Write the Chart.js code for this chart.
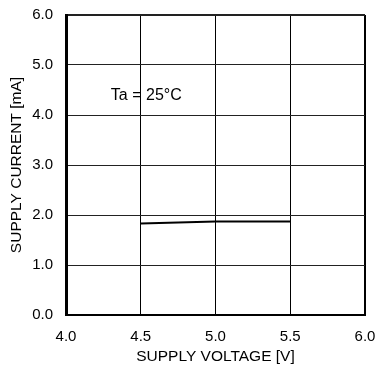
<!DOCTYPE html>
<html>
<head>
<meta charset="utf-8">
<script src="https://cdn.jsdelivr.net/npm/chart.js@4"></script>
<style>
  html, body { margin: 0; padding: 0; background: #fff; }
  #wrap { width: 376px; height: 370px; }
</style>
</head>
<body>
<div id="wrap"><canvas id="grafico"></canvas></div>
<script>
const tensao = [4.5, 5.0, 5.5];
const corrente = [1.83, 1.87, 1.87];
const ticksX = [4.0, 4.5, 5.0, 5.5, 6.0];
const ticksY = [0.0, 1.0, 2.0, 3.0, 4.0, 5.0, 6.0];
const anotacao = { texto: "Ta = 25°C", x: 4.3, y: 4.38 };

const fonte = "Liberation Sans, Arial, sans-serif";

// texto da condicao de medida, posicionado pelas escalas
const textoTa = {
  id: "textoTa",
  afterDatasetsDraw(chart) {
    const ctx = chart.ctx;
    const px = chart.scales.x.getPixelForValue(anotacao.x);
    const py = chart.scales.y.getPixelForValue(anotacao.y);
    ctx.save();
    ctx.font = "16px " + fonte;
    ctx.fillStyle = "#000";
    ctx.textAlign = "left";
    ctx.textBaseline = "middle";
    ctx.fillText(anotacao.texto, px, py);
    ctx.restore();
  }
};

new Chart(document.getElementById("grafico"), {
  type: "scatter",
  data: {
    datasets: [
      {
        data: tensao.map((v, i) => ({ x: v, y: corrente[i] })),
        showLine: true,
        borderColor: "#000",
        borderWidth: 2,
        pointRadius: 0,
        tension: 0,
      },
    ],
  },
  plugins: [textoTa],
  options: {
    responsive: true,
    maintainAspectRatio: false,
    animation: false,
    layout: { padding: { left: 0, right: 11, top: 15, bottom: 4 } },
    plugins: {
      legend: { display: false },
      tooltip: { enabled: false },
    },
    scales: {
      x: {
        type: "linear",
        min: 4,
        max: 6,
        afterBuildTicks: (s) => { s.ticks = ticksX.map((v) => ({ value: v })); },
        afterFit: (s) => {
          s.height = 51;
          s.paddingLeft = 0;
          s.paddingRight = 0;
        },
        ticks: {
          color: "#000",
          padding: 13,
          font: { family: fonte, size: 15 },
          callback: (v) => Number(v).toFixed(1),
        },
        grid: {
          color: "#000",
          lineWidth: (c) => (c.tick && c.tick.value === 6 ? 2 : 1),
          drawTicks: false,
        },
        border: { color: "#000", width: 2 },
        title: {
          display: true,
          text: "SUPPLY VOLTAGE [V]",
          color: "#000",
          font: { family: fonte, size: 15.5 },
          padding: { top: 2, bottom: 0 },
        },
      },
      y: {
        type: "linear",
        min: 0,
        max: 6,
        afterBuildTicks: (s) => { s.ticks = ticksY.map((v) => ({ value: v })); },
        afterFit: (s) => {
          s.width = 66;
          s.paddingTop = 0;
          s.paddingBottom = 0;
        },
        ticks: {
          color: "#000",
          padding: 13,
          font: { family: fonte, size: 15 },
          callback: (v) => Number(v).toFixed(1),
        },
        grid: {
          color: "#222",
          lineWidth: (c) => (c.tick && c.tick.value === 6 ? 2 : 1),
          drawTicks: false,
        },
        border: { color: "#000", width: 3 },
        title: {
          display: true,
          text: "SUPPLY CURRENT [mA]",
          color: "#000",
          font: { family: fonte, size: 15.5 },
          padding: { top: 7, bottom: 0 },
        },
      },
    },
  },
});
</script>
</body>
</html>
